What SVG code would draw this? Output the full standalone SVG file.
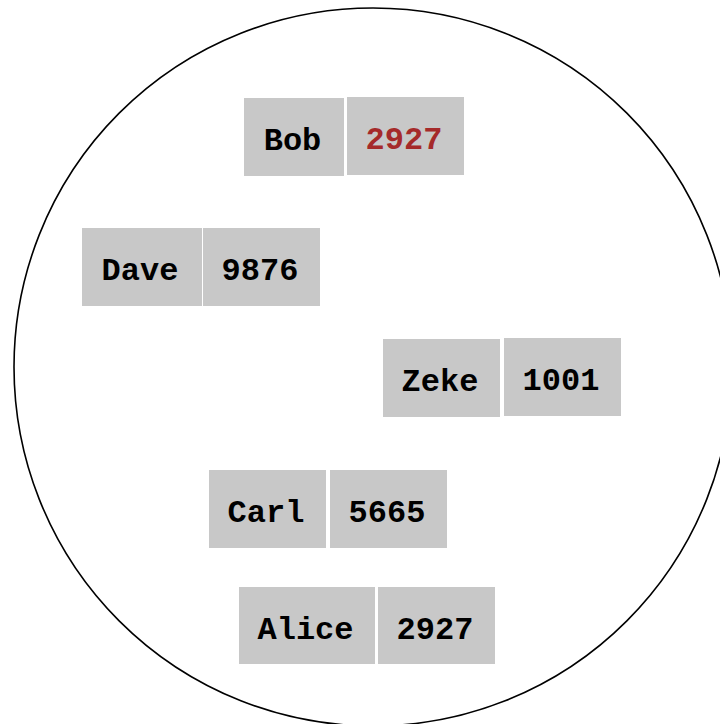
<svg xmlns="http://www.w3.org/2000/svg" width="720" height="724" viewBox="0 0 720 724">
<style>
.b{fill:#c8c8c8}
.t{font-family:"Liberation Mono","Courier New",monospace;font-weight:bold;font-size:32px;text-anchor:middle;fill:#000}
.r{fill:#a52a2a}
</style>
<rect width="720" height="724" fill="#fff"/>
<circle cx="373" cy="367" r="359" fill="none" stroke="#000" stroke-width="1.6"/>
<g id="bob">
<rect class="b" x="244" y="98" width="100" height="78"/>
<rect class="b" x="347" y="97" width="117" height="78"/>
<text class="t" x="292.5" y="150">Bob</text>
<text class="t r" x="404" y="149">2927</text>
</g>
<g id="dave">
<rect class="b" x="82" y="228" width="120" height="78"/>
<rect class="b" x="203" y="228" width="117" height="78"/>
<text class="t" x="140" y="280">Dave</text>
<text class="t" x="260" y="280">9876</text>
</g>
<g id="zeke">
<rect class="b" x="383" y="339" width="117" height="78"/>
<rect class="b" x="504" y="338" width="117" height="78"/>
<text class="t" x="440" y="391">Zeke</text>
<text class="t" x="561" y="390">1001</text>
</g>
<g id="carl">
<rect class="b" x="209" y="470" width="117" height="78"/>
<rect class="b" x="330" y="470" width="117" height="78"/>
<text class="t" x="266" y="522">Carl</text>
<text class="t" x="387" y="522">5665</text>
</g>
<g id="alice">
<rect class="b" x="239" y="587" width="136" height="77"/>
<rect class="b" x="378" y="587" width="117" height="77"/>
<text class="t" x="305.5" y="639">Alice</text>
<text class="t" x="435" y="639">2927</text>
</g>
<g id="connectors"/>
</svg>
